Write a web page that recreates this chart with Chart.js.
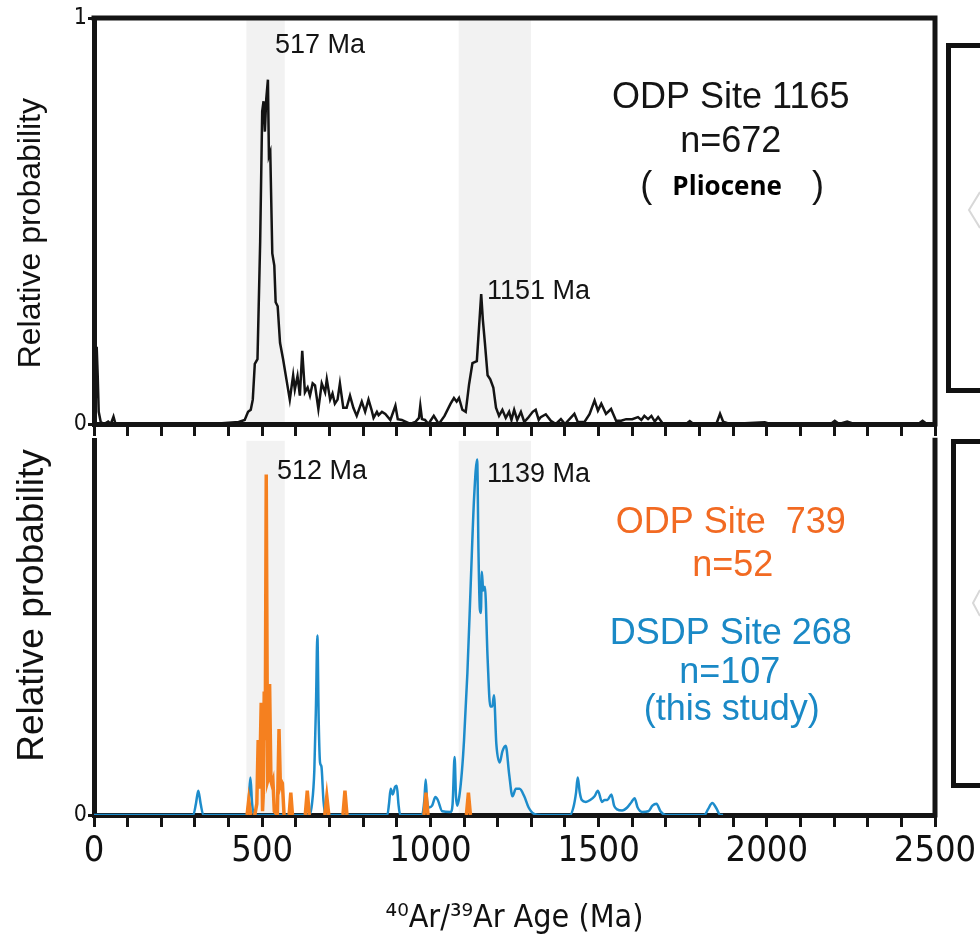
<!DOCTYPE html>
<html>
<head>
<meta charset="utf-8">
<title>40Ar/39Ar age spectra</title>
<script src="https://cdn.jsdelivr.net/npm/chart.js@4.4.1/dist/chart.umd.min.js"></script>
<style>
  html, body { margin: 0; padding: 0; background: #fff; }
  #wrap { position: relative; width: 980px; height: 943px; overflow: hidden; background: #fff; }
  #wrap canvas { position: absolute; left: 0; }
  #cBottom { top: 426px; }
  #cTop { top: 0; }
  .sideBox { position: absolute; border: 5px solid #111; box-sizing: border-box; width: 80px; }
  #chev { position: absolute; left: 0; top: 0; }
</style>
</head>
<body>
<div id="wrap">
  <div class="sideBox" style="left:946px; top:43px; height:350px;"></div>
  <div class="sideBox" style="left:951px; top:439px; height:349px;"></div>
  <svg id="chev" width="980" height="943">
    <polyline points="980,192 969,210 980,228" fill="none" stroke="#d8d8d8" stroke-width="2"/>
    <polyline points="980,590 973,603 980,616" fill="none" stroke="#d8d8d8" stroke-width="2"/>
  </svg>
  <canvas id="cBottom" width="980" height="517"></canvas>
  <canvas id="cTop" width="980" height="440"></canvas>
</div>
<script>
// ---- ODP Site 1165 (Pliocene), relative probability vs age (Ma)
const ages1165 = [0, 5, 8, 11, 14, 20, 30, 42, 50, 58, 64, 120, 250, 380, 430, 448, 458, 466, 472, 478, 486,
  494, 500, 504, 508, 512, 517, 520, 524, 530, 536, 540, 546, 553, 562, 572, 582, 592, 597, 605, 612,
  619, 627, 635, 642, 650, 657, 667, 677, 687, 692, 702, 709, 716, 724, 731, 741, 751, 761, 771, 781,
  796, 806, 816, 825, 831, 841, 846, 856, 866, 881, 896, 903, 915, 940, 955, 966, 970, 975, 984, 994,
  1010, 1025, 1042, 1060, 1070, 1078, 1085, 1095, 1105, 1115, 1125, 1138, 1151, 1156, 1162, 1170, 1178, 1187, 1195, 1204,
  1214, 1224, 1234, 1241, 1249, 1258, 1269, 1279, 1290, 1304, 1313, 1322, 1328, 1343, 1358, 1373, 1388, 1400, 1428, 1438,
  1458, 1473, 1488, 1498, 1508, 1522, 1537, 1552, 1567, 1582, 1600, 1617, 1627, 1636, 1647, 1657, 1667, 1677, 1690, 1706,
  1760, 1771, 1782, 1850, 1861, 1870, 1890, 1994, 2010, 2190, 2202, 2215, 2239, 2260, 2450, 2463, 2476, 2500];
const prob1165 = [0.0, 0.05, 0.19, 0.12, 0.03, 0.005, 0.0, 0.006, 0.0, 0.018, 0.0, 0.0, 0.0, 0.002, 0.005, 0.01, 0.03, 0.035, 0.06, 0.148, 0.16,
  0.45, 0.77, 0.795, 0.72, 0.8, 0.848, 0.66, 0.67, 0.42, 0.39, 0.30, 0.29, 0.20, 0.16, 0.11, 0.06, 0.12, 0.085, 0.118, 0.07,
  0.18, 0.078, 0.09, 0.07, 0.10, 0.095, 0.037, 0.10, 0.078, 0.11, 0.06, 0.075, 0.05, 0.06, 0.10, 0.04, 0.04, 0.07, 0.04, 0.02,
  0.055, 0.03, 0.06, 0.035, 0.015, 0.03, 0.022, 0.03, 0.025, 0.01, 0.045, 0.012, 0.01, 0.0, 0.005, 0.015, 0.045, 0.012, 0.01, 0.0,
  0.02, 0.0, 0.02, 0.05, 0.064, 0.055, 0.064, 0.035, 0.03, 0.098, 0.15, 0.155, 0.32, 0.256, 0.2, 0.12, 0.11, 0.09, 0.04, 0.02,
  0.035, 0.015, 0.03, 0.01, 0.035, 0.01, 0.03, 0.005, 0.015, 0.03, 0.035, 0.01, 0.017, 0.024, 0.008, 0.0, 0.012, 0.0, 0.025, 0.005,
  0.005, 0.024, 0.058, 0.033, 0.05, 0.025, 0.037, 0.008, 0.008, 0.012, 0.012, 0.017, 0.01, 0.02, 0.012, 0.02, 0.006, 0.017, 0.002, 0.0,
  0.0, 0.007, 0.0, 0.0, 0.025, 0.006, 0.0, 0.004, 0.0, 0.0, 0.008, 0.0, 0.006, 0.0, 0.0, 0.008, 0.0, 0.0];

// ---- DSDP Site 268 (this study)
const ages268 = [0, 295, 303, 310, 317, 325, 455, 460, 465, 470, 476, 640, 648, 655, 660, 664, 668, 672, 676, 682,
  688, 872, 877, 882, 888, 895, 900, 905, 910, 975, 982, 986, 990, 996, 1005, 1015, 1022, 1035, 1060, 1066,
  1072, 1076, 1080, 1086, 1094, 1100, 1110, 1120, 1130, 1139, 1143, 1147, 1150, 1153, 1157, 1162, 1170, 1178, 1184, 1189,
  1196, 1206, 1214, 1224, 1234, 1244, 1254, 1265, 1279, 1292, 1308, 1330, 1415, 1425, 1433, 1438, 1444, 1450, 1462, 1475,
  1488, 1498, 1510, 1518, 1526, 1538, 1546, 1555, 1570, 1585, 1598, 1607, 1616, 1630, 1648, 1660, 1672, 1684, 1700, 1815,
  1825, 1838, 1850, 1862, 1870];
const prob268 = [0, 0, 0.03, 0.065, 0.03, 0, 0, 0.04, 0.1, 0.03, 0, 0, 0.03, 0.12, 0.3, 0.48, 0.25, 0.14, 0.13, 0.04,
  0, 0, 0.03, 0.07, 0.055, 0.075, 0.078, 0.03, 0, 0, 0.04, 0.095, 0.04, 0.02, 0.025, 0.048, 0.04, 0.01, 0.008, 0.03,
  0.155, 0.05, 0.025, 0.05, 0.12, 0.2, 0.38, 0.62, 0.85, 0.95, 0.7, 0.55, 0.54, 0.65, 0.6, 0.61, 0.42, 0.29, 0.29, 0.32,
  0.19, 0.14, 0.17, 0.185, 0.11, 0.05, 0.07, 0.07, 0.05, 0.02, 0.003, 0, 0, 0.02, 0.06, 0.1, 0.06, 0.04, 0.035, 0.04,
  0.05, 0.065, 0.035, 0.04, 0.04, 0.055, 0.025, 0.015, 0.012, 0.02, 0.035, 0.045, 0.02, 0.008, 0.01, 0.025, 0.03, 0.01, 0, 0,
  0.015, 0.032, 0.018, 0, 0];

// ---- ODP Site 739 (null separates the isolated age spikes)
const ages739 = [455, 460, 466, null, 478, 484, 488, 492, 497, 501, 503, 506, 509, 512, 516, 519, 522, 526, 529, 532,
  536, 545, 550, 554, 557, 560, 565, null, 580, 585, 590, null, 628, 634, 640, null, 686, 692, 698, null,
  740, 746, 752, null, 981, 987, 993, null, 1107, 1113, 1119];
const prob739 = [0, 0.04, 0, null, 0, 0.03, 0.2, 0.07, 0.3, 0.01, 0.05, 0.33, 0.2, 0.91, 0.09, 0.1, 0.35, 0.09, 0.08, 0.09,
  0.01, 0, 0.23, 0.08, 0.09, 0.085, 0, null, 0, 0.06, 0, null, 0, 0.065, 0, null, 0, 0.05, 0, null,
  0, 0.065, 0, null, 0, 0.06, 0, null, 0, 0.06, 0];

// shaded age intervals (Ma)
const bandFrom = [453, 1084];
const bandTo = [567, 1299];

// x-axis labels shown on the lower panel
const tickLabels = [0, 500, 1000, 1500, 2000, 2500];

const sans = "'Liberation Sans', Arial, Helvetica, sans-serif";
const ink = '#141414';
const orange = '#f5801f';
const blue = '#1d8ccb';
const orangeText = '#f26a22';
const blueText = '#1a89c6';

// pick a condensed face for the axis numbers, with a size that keeps their width
const axisFace = (function () {
  const c = document.createElement('canvas').getContext('2d');
  const w = f => { c.font = f; return c.measureText('1000 2500 Age').width; };
  const mono = w('40px monospace');
  const has = fam => Math.abs(w("40px '" + fam + "', monospace") - mono) > 0.5;
  if (has('Liberation Sans Narrow')) {
    return { family: "'Liberation Sans Narrow', sans-serif", weight: 'normal', k: 1 };
  }
  if (has('DejaVu Sans Condensed')) {
    return { family: "'DejaVu Sans Condensed', sans-serif", weight: 'normal', k: 0.9 };
  }
  if (has('DejaVu Sans') && w("condensed 40px 'DejaVu Sans', monospace") < w("40px 'DejaVu Sans', monospace") * 0.95) {
    return { family: "'DejaVu Sans', sans-serif", weight: 'condensed', k: 0.9 };
  }
  return { family: sans, weight: 'normal', k: 0.85 };
})();
const axisFont = size => ({ family: axisFace.family, weight: axisFace.weight, size: Math.round(size * axisFace.k) });

// text placed in data coordinates of each panel
const topNotes = [
  { text: '517 Ma', x: 538, y: 0.931, size: 27, align: 'left', color: ink },
  { text: '1151 Ma', x: 1168, y: 0.326, size: 27, align: 'left', color: ink },
  { text: 'ODP Site 1165', x: 1893, y: 0.802, size: 36, align: 'center', color: ink },
  { text: 'n=672', x: 1893, y: 0.694, size: 36, align: 'center', color: ink },
  { text: '(', x: 1642, y: 0.583, size: 36, align: 'center', color: ink },
  { text: 'Pliocene', x: 1882, y: 0.583, size: 26, align: 'center', color: '#000', weight: 'bold', family: "'Open Sans', 'Noto Sans', sans-serif" },
  { text: ')', x: 2152, y: 0.583, size: 36, align: 'center', color: ink }
];
const bottomNotes = [
  { text: '512 Ma', x: 544, y: 0.918, size: 27, align: 'left', color: ink },
  { text: '1139 Ma', x: 1168, y: 0.910, size: 27, align: 'left', color: ink },
  { text: 'ODP Site  739', x: 1893, y: 0.779, size: 36, align: 'center', color: orangeText },
  { text: 'n=52', x: 1899, y: 0.666, size: 36, align: 'center', color: orangeText },
  { text: 'DSDP Site 268', x: 1893, y: 0.483, size: 36, align: 'center', color: blueText },
  { text: 'n=107', x: 1890, y: 0.378, size: 36, align: 'center', color: blueText },
  { text: '(this study)', x: 1896, y: 0.28, size: 36, align: 'center', color: blueText }
];

function pts(xs, ys) {
  return xs.map((a, i) => ({ x: a, y: ys[i] }));
}

const bandsPlugin = {
  id: 'bands',
  beforeDraw(chart) {
    const { ctx, chartArea: a, scales: { x } } = chart;
    ctx.save();
    ctx.fillStyle = '#f2f2f2';
    bandFrom.forEach((v, i) => {
      const x0 = x.getPixelForValue(v);
      const x1 = x.getPixelForValue(bandTo[i]);
      ctx.fillRect(x0, a.top, x1 - x0, a.bottom - a.top);
    });
    ctx.restore();
  }
};

function framePlugin(drawTop) {
  return {
    id: 'frame',
    afterDraw(chart) {
      const { ctx, chartArea: a } = chart;
      ctx.save();
      ctx.strokeStyle = ink;
      ctx.lineWidth = 5;
      ctx.beginPath();
      if (drawTop) {
        ctx.moveTo(a.left - 2.5, a.top);
        ctx.lineTo(a.right + 2.5, a.top);
      }
      ctx.moveTo(a.right, drawTop ? a.top : a.top - 3);
      ctx.lineTo(a.right, a.bottom + 2.5);
      ctx.stroke();
      ctx.restore();
    }
  };
}

// rotated y-axis caption: x from the canvas left, centre given as a fraction of the plot height
function yCaptionPlugin(size, cx, frac) {
  return {
    id: 'yCaption',
    afterDraw(chart) {
      const { ctx, chartArea: a } = chart;
      ctx.save();
      ctx.translate(cx, a.top + (a.bottom - a.top) * frac);
      ctx.rotate(-Math.PI / 2);
      ctx.font = size + 'px ' + sans;
      ctx.fillStyle = '#111';
      ctx.textAlign = 'center';
      ctx.textBaseline = 'middle';
      ctx.fillText('Relative probability', 0, 0);
      ctx.restore();
    }
  };
}

function notesPlugin(items) {
  return {
    id: 'notes',
    afterDraw(chart) {
      const { ctx, scales: { x, y } } = chart;
      ctx.save();
      ctx.textBaseline = 'middle';
      items.forEach(n => {
        ctx.font = (n.weight || 'normal') + ' ' + n.size + 'px ' + (n.family || sans);
        ctx.fillStyle = n.color;
        ctx.textAlign = n.align;
        ctx.fillText(n.text, x.getPixelForValue(n.x), y.getPixelForValue(n.y));
      });
      ctx.restore();
    }
  };
}

function xScale(showLabels, height) {
  return {
    type: 'linear',
    min: 0,
    max: 2500,
    afterFit: s => { s.height = height; },
    grid: { drawOnChartArea: false, drawTicks: true, tickLength: 12, lineWidth: 3, color: ink },
    border: { display: true, width: 5, color: ink },
    ticks: {
      display: showLabels,
      stepSize: 100,
      autoSkip: false,
      maxRotation: 0,
      padding: 3,
      color: '#111',
      font: axisFont(40),
      callback: v => (tickLabels.includes(v) ? String(v) : '')
    },
    title: showLabels ? {
      display: true,
      text: '⁴⁰Ar/³⁹Ar Age (Ma)',
      color: '#111',
      font: axisFont(36),
      padding: { top: 0, bottom: 5 }
    } : { display: false }
  };
}

function yScale(tickValues) {
  return {
    min: 0,
    max: 1,
    afterFit: s => { s.width = 94; },
    afterBuildTicks: s => { s.ticks = tickValues.map(v => ({ value: v })); },
    grid: { drawOnChartArea: false, drawTicks: true, tickLength: 6, lineWidth: 3, color: ink },
    border: { display: true, width: 5, color: ink },
    ticks: { color: '#111', padding: 1, font: axisFont(26) },
    title: { display: false }
  };
}

const common = {
  responsive: false,
  animation: false,
  events: [],
  elements: { point: { radius: 0 } },
  plugins: { legend: { display: false }, tooltip: { enabled: false } }
};

new Chart(document.getElementById('cTop'), {
  type: 'line',
  data: {
    datasets: [{
      label: 'ODP Site 1165',
      data: pts(ages1165, prob1165),
      borderColor: ink,
      borderWidth: 2.5,
      tension: 0
    }]
  },
  options: Object.assign({}, common, {
    layout: { padding: { left: 0, right: 45, top: 18, bottom: 0 } },
    scales: { x: xScale(false, 16), y: yScale([0, 1]) }
  }),
  plugins: [bandsPlugin, framePlugin(true), notesPlugin(topNotes), yCaptionPlugin(32, 31, 0.53)]
});

new Chart(document.getElementById('cBottom'), {
  type: 'line',
  data: {
    datasets: [
      {
        label: 'ODP Site 739',
        data: pts(ages739, prob739),
        borderColor: orange,
        borderWidth: 3.5,
        tension: 0,
        spanGaps: false
      },
      {
        label: 'DSDP Site 268',
        data: pts(ages268, prob268),
        borderColor: blue,
        borderWidth: 2.5,
        cubicInterpolationMode: 'monotone'
      }
    ]
  },
  options: Object.assign({}, common, {
    layout: { padding: { left: 0, right: 45, top: 0, bottom: 0 } },
    scales: { x: xScale(true, 128), y: yScale([0]) }
  }),
  plugins: [bandsPlugin, framePlugin(false), notesPlugin(bottomNotes), yCaptionPlugin(37, 33, 0.44)]
});
</script>
</body>
</html>
